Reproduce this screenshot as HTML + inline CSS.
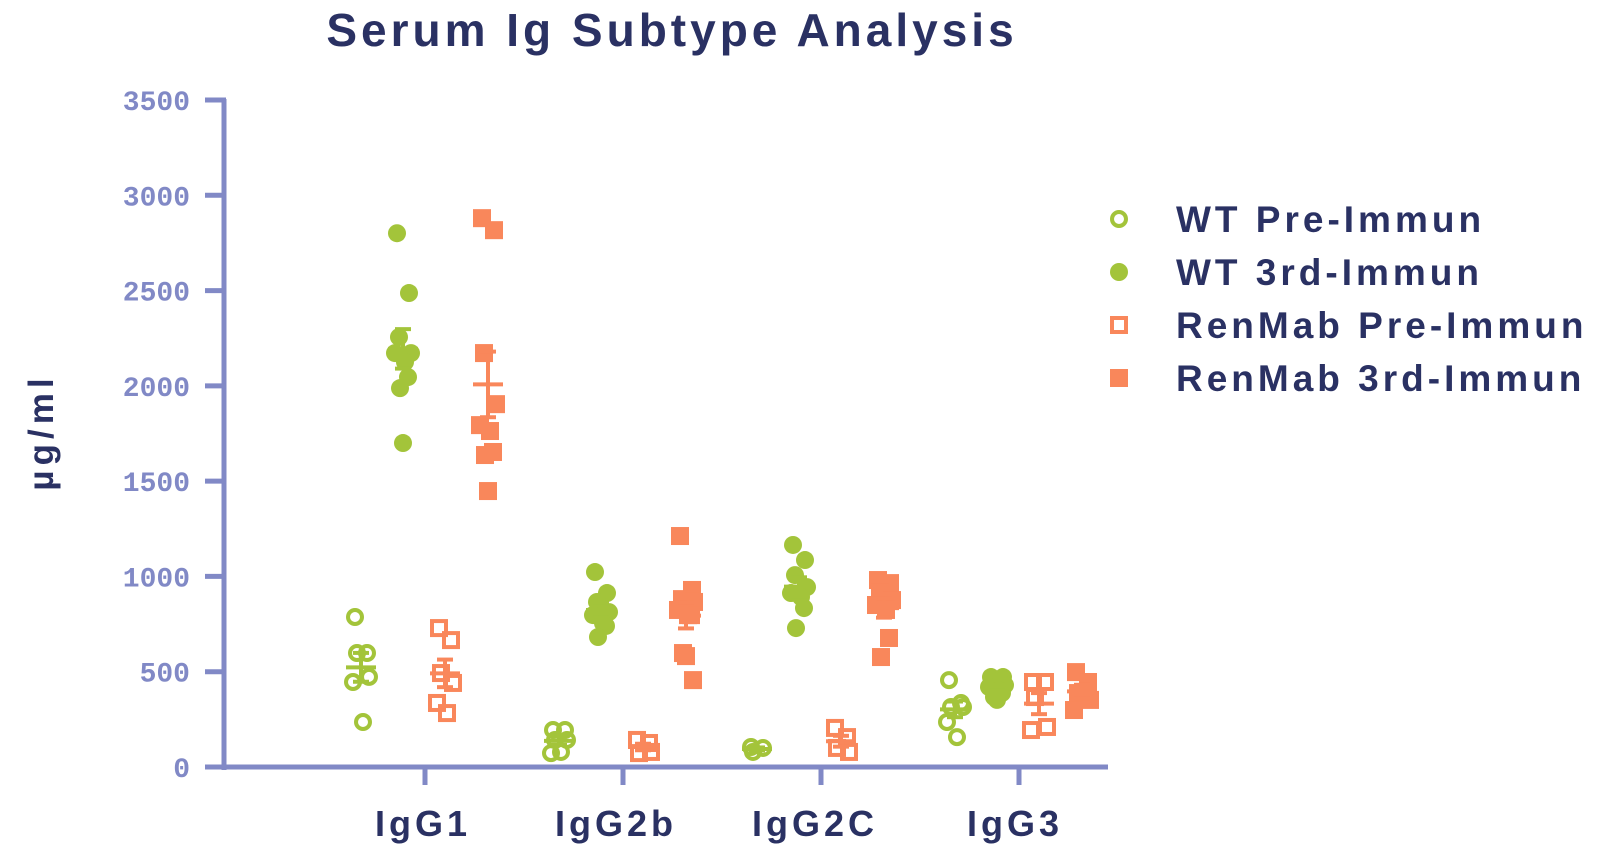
<!DOCTYPE html>
<html><head><meta charset="utf-8"><style>
body{margin:0;background:#fff;}
svg text{font-family:"Liberation Sans",sans-serif;}
</style></head><body>
<svg id="chart" width="1610" height="856">
<text x="672" y="46" text-anchor="middle" font-size="46" font-weight="bold" letter-spacing="4" fill="#2a3163">Serum Ig Subtype Analysis</text>
<text transform="translate(53,432) rotate(-90)" text-anchor="middle" font-size="35" font-weight="bold" letter-spacing="5" fill="#2a3163">µg/ml</text>
<g id="axes"></g><g id="marks"></g><g id="legend"></g>
</svg>
<script>
const categories=["IgG1","IgG2b","IgG2C","IgG3"];
const yTicks=[0,500,1000,1500,2000,2500,3000,3500];
const seriesNames=["WT Pre-Immun","WT 3rd-Immun","RenMab Pre-Immun","RenMab 3rd-Immun"];
const wtPre=[[787,598,598,473,446,236],[194,194,142,142,73,79],[105,100,79],[456,336,315,315,236,157]];
const wt3rd=[[2801,2487,2256,2172,2172,2125,2046,1988,1700],[1023,913,866,813,797,755,740,682],[1165,1086,1007,944,913,892,834,729],[472,472,451,430,420,404,388,367,352]];
const rmPre=[[729,666,493,441,336,283],[142,126,73,79],[205,157,100,79],[446,446,367,210,194]];
const rm3rd=[[2880,2817,2172,1904,1794,1763,1653,1637,1448],[1212,929,881,866,824,797,797,598,582,456],[981,965,918,876,850,824,677,577],[498,446,388,352,299]];
const allSeries=[wtPre,wt3rd,rmPre,rm3rd];
const NS="http://www.w3.org/2000/svg";
const G="#a3c43a",O="#f9875b",AX="#8189c6";
const y0=767,yTop=100,vMax=3500;
const yS=v=>y0-(v/vMax)*(y0-yTop);
const xCat=i=>425+i*198;
const offs=[-64,-22,20,63];
function mk(tag,attrs,parent){const e=document.createElementNS(NS,tag);for(const k in attrs)e.setAttribute(k,attrs[k]);parent.appendChild(e);return e;}
const axes=document.getElementById('axes'),marks=document.getElementById('marks'),leg=document.getElementById('legend');
let e=mk('line',{x1:224,y1:yTop-1,x2:224,y2:y0+3,stroke:AX,'stroke-width':5},axes);


e=mk('line',{x1:221,y1:y0,x2:1108,y2:y0,stroke:AX,'stroke-width':5},axes);


yTicks.forEach(t=>{
 const y=yS(t);
 let l=mk('line',{x1:205,y1:y,x2:226,y2:y,stroke:AX,'stroke-width':5},axes);
 
 
 let tx=mk('text',{x:190,y:y+10,'text-anchor':'end','font-size':28,'font-weight':'bold',fill:AX,style:'font-family:"Liberation Mono",monospace'},axes);
 tx.textContent=t;
 
 
});
const labelX=[423,616,815,1015];
categories.forEach((c,i)=>{
 let l=mk('line',{x1:xCat(i),y1:y0,x2:xCat(i),y2:y0+18,stroke:AX,'stroke-width':5},axes);
 
 
 let tx=mk('text',{x:labelX[i],y:836,'text-anchor':'middle','font-size':36,'font-weight':'bold','letter-spacing':4,fill:'#2a3163'},axes);
 tx.textContent=c;
 
 
});
const jit=[-6,6,-4,8,-8,2,5,-3,0,7];
function marker(s,x,y,p){
 let m;
 if(s===0) m=mk('circle',{cx:x,cy:y,r:7,fill:'none',stroke:G,'stroke-width':4},p);
 else if(s===1) m=mk('circle',{cx:x,cy:y,r:9,fill:G},p);
 else if(s===2) m=mk('rect',{x:x-7,y:y-7,width:14,height:14,fill:'none',stroke:O,'stroke-width':4},p);
 else m=mk('rect',{x:x-9,y:y-9,width:18,height:18,fill:O},p);
 return m;
}
allSeries.forEach((ser,s)=>{
 ser.forEach((vals,ci)=>{
  const cx=xCat(ci)+offs[s];
  vals.forEach((v,k)=>{
   const m=marker(s,cx+jit[k%jit.length],yS(v),marks);
   
   
  });
  const n=vals.length,mean=vals.reduce((a,b)=>a+b,0)/n;
  const sd=Math.sqrt(vals.reduce((a,b)=>a+(b-mean)*(b-mean),0)/(n-1)),se=sd/Math.sqrt(n);
  const col=s<2?G:O;
  const g=mk('g',{stroke:col,'stroke-width':4},marks);
  
  
  mk('line',{x1:cx-15,x2:cx+15,y1:yS(mean),y2:yS(mean)},g);
  mk('line',{x1:cx,x2:cx,y1:yS(mean-se),y2:yS(mean+se)},g);
  mk('line',{x1:cx-8,x2:cx+8,y1:yS(mean-se),y2:yS(mean-se)},g);
  mk('line',{x1:cx-8,x2:cx+8,y1:yS(mean+se),y2:yS(mean+se)},g);
 });
});
seriesNames.forEach((n,i)=>{
 const y=219+i*53;
 const g=mk('g',{},leg);
 
 
 marker(i,1119,y,g);
 const t=mk('text',{x:1176,y:y+13,'font-size':37,'font-weight':'bold','letter-spacing':4,fill:'#2a3163'},g);
 t.textContent=n;
});
</script>
</body></html>
